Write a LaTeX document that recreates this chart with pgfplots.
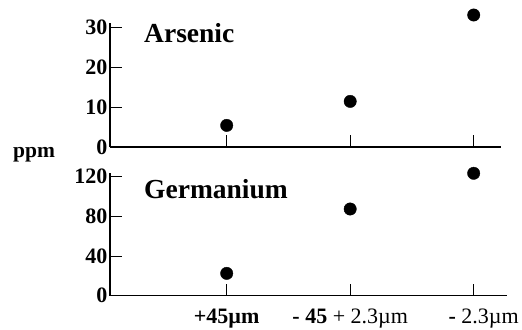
\documentclass[border=0pt]{standalone}
\usepackage{fontspec}
\setmainfont{Liberation Serif}
\usepackage{pgfplots}
\pgfplotsset{compat=1.18}
\newcommand\tlf{\fontsize{22bp}{22bp}\selectfont\bfseries}
\begin{document}
\begin{tikzpicture}[x=1bp,y=1bp]
\useasboundingbox (0,0) rectangle (522,329);
\pgfplotsset{myax/.style={
  scale only axis, axis x line=bottom, axis y line=left,
  axis line style={-, line width=1.1bp, black},
  tick align=inside, major tick length=12bp,
  tick style={line width=1bp, black},
  xtick={0,1,2}, clip=false,
  yticklabel style={font=\tlf, xshift=1bp},
  xticklabel style={font=\tlf, yshift=-10bp},
  /pgf/number format/assume math mode=true,
  anchor=south west,
  mark=*, mark size=6.2bp, only marks,
}}
% top axis: Arsenic
\begin{axis}[myax, at={(110bp,182bp)}, width=391bp, height=124bp,
  xmin=-0.945, xmax=2.221, ymin=0, ymax=31,
  ytick={0,10,20,30}, xticklabels={}]
\addplot+[black, mark options={fill=black}] coordinates {(0,5.4) (1,11.4) (2,33)};
\end{axis}
% bottom axis: Germanium
\begin{axis}[myax, at={(110bp,33.3bp)}, width=397bp, height=123bp,
  xmin=-0.945, xmax=2.27, ymin=0, ymax=124,
  ytick={0,40,80,120},
  xticklabels={{+45µm},{- 45 {\mdseries + 2.3µm}},{\hspace*{20bp}- {\mdseries 2.3µm}}}]
\addplot+[black, mark options={fill=black}] coordinates {(0,22.5) (1,87.4) (2,123.4)};
\end{axis}
\node[anchor=base west, font=\fontsize{27.5bp}{27.5bp}\selectfont\bfseries, inner sep=0] at (144,287) {Arsenic};
\node[anchor=base west, font=\fontsize{27.5bp}{27.5bp}\selectfont\bfseries, inner sep=0] at (144,130.7) {Germanium};
\node[anchor=base west, font=\fontsize{21.5bp}{21.5bp}\selectfont\bfseries, inner sep=0] at (13,172) {ppm};
\end{tikzpicture}
\end{document}
